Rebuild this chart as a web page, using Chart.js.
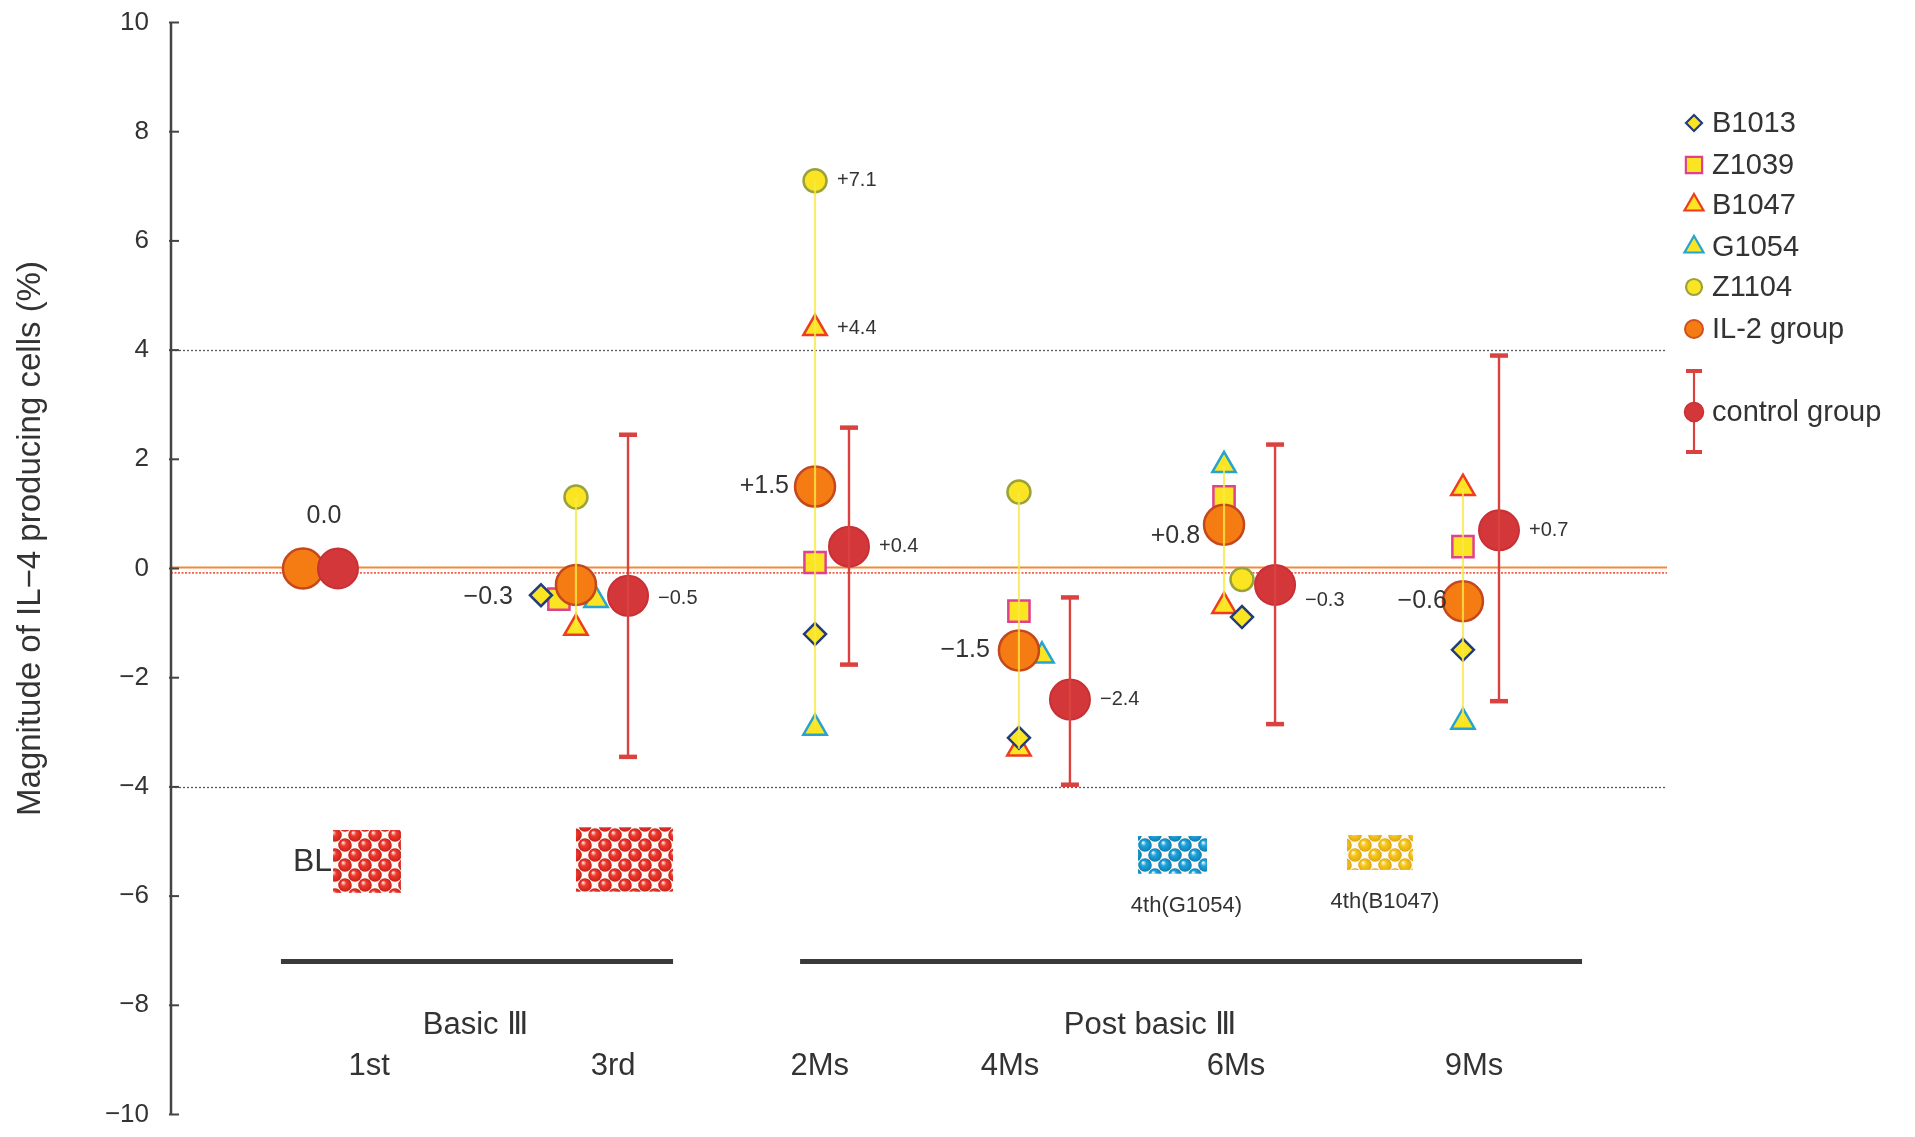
<!DOCTYPE html>
<html>
<head>
<meta charset="utf-8">
<script src="https://cdn.jsdelivr.net/npm/chart.js@4.4.1/dist/chart.umd.min.js"></script>
<style>
  html, body { margin: 0; padding: 0; background: #ffffff; }
  canvas { display: block; }
</style>
</head>
<body>
<canvas id="chart" width="1915" height="1137"></canvas>
<script>
// ---- data -------------------------------------------------------------
const timePoints = ['1st', '3rd', '2Ms', '4Ms', '6Ms', '9Ms'];
const phaseLabels = ['Basic Ⅲ', 'Post basic Ⅲ'];
const yTicks = [10, 8, 6, 4, 2, 0, -2, -4, -6, -8, -10];
const yTitle = 'Magnitude of IL−4 producing cells (%)';

// individual animals (change in % IL-4 producing cells)
const b1013 = [null, -0.49, -1.20, -3.10, -0.89, -1.49];
const z1039 = [null, -0.56, 0.11, -0.78, 1.31, 0.40];
const b1047 = [null, -1.09, 4.40, -3.30, -0.69, 1.47];
const g1054 = [null, -0.58, -2.92, -1.60, 1.89, -2.81];
const z1104 = [null, 1.31, 7.10, 1.40, -0.20, null];

// group means
const il2Mean = [0.0, -0.3, 1.5, -1.5, 0.8, -0.6];
const controlMean = [0.0, -0.5, 0.4, -2.4, -0.3, 0.7];
const controlHigh = [null, 2.45, 2.58, -0.53, 2.27, 3.90];
const controlLow = [null, -3.45, -1.76, -3.96, -2.85, -2.43];

// reference lines
const limitLines = [4, -4];
const zeroLines = [0.02, -0.08];

// treatment boxes
const boxLabels = ['BL', '', '4th(G1054)', '4th(B1047)'];

// ---- layout (x axis runs 0..100) ---------------------------------------
const il2X = [8.82, 27.07, 43.05, 56.68, 70.39, 86.36];
const controlX = [11.16, 30.55, 45.32, 60.09, 73.80, 88.77];
const tickX = [13.24, 29.55, 43.37, 56.08, 71.19, 87.10];
const phaseX = [20.35, 65.45];
const phaseBars = [[7.35, 33.56], [42.05, 94.32]];
const boxRects = [
  { x0: 10.83, x1: 15.37, y0: -4.79, y1: -5.94, color: 'red', ldx: 0 },
  { x0: 27.07, x1: 33.56, y0: -4.74, y1: -5.92, color: 'red', ldx: 0 },
  { x0: 64.64, x1: 69.25, y0: -4.90, y1: -5.59, color: 'blue', ldx: 14 },
  { x0: 78.61, x1: 83.02, y0: -4.88, y1: -5.52, color: 'yellow', ldx: 5 }
];
const xOffB1013 = [0, -2.34, 0, 0, 1.20, 0];
const xOffZ1039 = [0, -1.14, 0, 0, 0, 0];
const xOffB1047 = [0, 0, 0, 0, 0, 0];
const xOffG1054 = [0, 1.34, 0, 1.54, 0, 0];
const xOffZ1104 = [0, 0, 0, 0, 1.20, 0];

const FONT = '"Liberation Sans", Arial, sans-serif';
const TEXT = '#333333';
const YELLOW = '#fbe523';

const series = [
  { name: 'B1013', vals: b1013, off: xOffB1013, style: 'rectRot', r: 11, lr: 8, stroke: '#233c7c' },
  { name: 'Z1039', vals: z1039, off: xOffZ1039, style: 'rect', r: 15, lr: 11.5, stroke: '#e0418f' },
  { name: 'B1047', vals: b1047, off: xOffB1047, style: 'triangle', r: 13.5, lr: 11, stroke: '#ef3b1e' },
  { name: 'G1054', vals: g1054, off: xOffG1054, style: 'triangle', r: 13.5, lr: 11, stroke: '#27a3cf' },
  { name: 'Z1104', vals: z1104, off: xOffZ1104, style: 'circle', r: 11.5, lr: 8, stroke: '#9aa23c' }
];

function fmt(v) {
  if (v > 0) return '+' + v.toFixed(1);
  if (v < 0) return '−' + (-v).toFixed(1);
  return '0.0';
}

// ---- datasets ----------------------------------------------------------
const datasets = [];
series.forEach(s => {
  datasets.push({
    label: s.name,
    data: s.vals.map((v, i) => v === null ? null : { x: il2X[i] + s.off[i], y: v }).filter(p => p),
    pointStyle: s.style,
    pointRadius: s.r,
    backgroundColor: YELLOW,
    borderColor: s.stroke,
    borderWidth: 2.5,
    order: 40
  });
});

datasets.push({
  label: 'IL-2 group',
  data: il2Mean.map((v, i) => ({ x: il2X[i], y: v })),
  pointStyle: 'circle',
  pointRadius: 20,
  backgroundColor: '#f57c12',
  borderColor: '#c4471d',
  borderWidth: 2.5,
  order: 30
});

// spread of the individual animals at each time point
const spread = [];
timePoints.forEach((t, i) => {
  const vals = series.filter(s => s.off[i] === 0).map(s => s.vals[i]).filter(v => v !== null);
  if (vals.length > 1) {
    spread.push({ x: il2X[i], y: Math.max(...vals) });
    spread.push({ x: il2X[i], y: Math.min(...vals) });
    spread.push({ x: il2X[i], y: null });
  }
});
datasets.push({
  type: 'line',
  label: 'range',
  data: spread,
  borderColor: 'rgba(247, 232, 70, 0.8)',
  borderWidth: 2.2,
  pointRadius: 0,
  spanGaps: false,
  fill: false,
  order: 20
});

datasets.push({
  label: 'control group',
  data: controlMean.map((v, i) => ({ x: controlX[i], y: v })),
  pointStyle: 'circle',
  pointRadius: 20,
  backgroundColor: '#d3373a',
  borderColor: '#c83035',
  borderWidth: 2,
  order: 10
});

// ---- drawing helpers ---------------------------------------------------
function drawMarker(ctx, style, x, y, r, fill, stroke, lw) {
  ctx.save();
  ctx.beginPath();
  if (style === 'circle') {
    ctx.arc(x, y, r, 0, Math.PI * 2);
  } else if (style === 'rect') {
    const s = Math.SQRT1_2 * r;
    ctx.rect(x - s, y - s, 2 * s, 2 * s);
  } else if (style === 'rectRot') {
    ctx.moveTo(x - r, y); ctx.lineTo(x, y - r); ctx.lineTo(x + r, y); ctx.lineTo(x, y + r);
    ctx.closePath();
  } else if (style === 'triangle') {
    let a = 0;
    for (let k = 0; k < 3; k++) {
      const px = x + Math.sin(a) * r, py = y - Math.cos(a) * r;
      if (k === 0) ctx.moveTo(px, py); else ctx.lineTo(px, py);
      a += Math.PI * 2 / 3;
    }
    ctx.closePath();
  }
  ctx.fillStyle = fill; ctx.fill();
  ctx.lineWidth = lw; ctx.strokeStyle = stroke; ctx.stroke();
  ctx.restore();
}

const ballColors = {
  red: ['#ffd6cf', '#ee3a2e', '#c8201a'],
  blue: ['#d6f2ff', '#1ea3dc', '#0f7fb4'],
  yellow: ['#fff6c8', '#f7c81c', '#e0a810']
};
function ballPattern(ctx, key) {
  const c = document.createElement('canvas');
  c.width = 20; c.height = 20;
  const g = c.getContext('2d');
  g.fillStyle = '#fffaf6';
  g.fillRect(0, 0, 20, 20);
  const [hi, mid, lo] = ballColors[key];
  [[5, 5], [15, 15], [15, -5], [-5, 15], [25, 5], [5, 25], [-5, -5], [25, 25]].forEach(([cx, cy]) => {
    const grd = g.createRadialGradient(cx - 2, cy - 2.5, 0.5, cx, cy, 6.8);
    grd.addColorStop(0, hi);
    grd.addColorStop(0.35, mid);
    grd.addColorStop(1, lo);
    g.fillStyle = grd;
    g.beginPath(); g.arc(cx, cy, 6.8, 0, Math.PI * 2); g.fill();
  });
  return ctx.createPattern(c, 'repeat');
}

function hline(ctx, x0, x1, y) {
  ctx.beginPath(); ctx.moveTo(x0, y); ctx.lineTo(x1, y); ctx.stroke();
}

const decor = {
  id: 'decor',
  beforeDatasetsDraw(chart) {
    const { ctx, chartArea: a, scales: { y } } = chart;
    ctx.save();
    ctx.strokeStyle = '#5a5a5a';
    ctx.lineWidth = 1.3;
    ctx.setLineDash([2, 2]);
    limitLines.forEach(v => hline(ctx, a.left, a.right, Math.round(y.getPixelForValue(v)) + 0.5));
    ctx.setLineDash([]);
    ctx.strokeStyle = '#f28a3a';
    ctx.lineWidth = 2;
    hline(ctx, a.left, a.right, y.getPixelForValue(zeroLines[0]));
    ctx.setLineDash([2, 1.5]);
    ctx.strokeStyle = '#f0604c';
    ctx.lineWidth = 1.8;
    hline(ctx, a.left, a.right, y.getPixelForValue(zeroLines[1]));
    ctx.restore();
  },
  afterDatasetsDraw(chart) {
    const { ctx, scales: { x, y } } = chart;
    ctx.save();
    // control group error bars
    ctx.strokeStyle = '#d9423f';
    controlMean.forEach((v, i) => {
      if (controlHigh[i] === null) return;
      const px = x.getPixelForValue(controlX[i]);
      const top = y.getPixelForValue(controlHigh[i]);
      const bot = y.getPixelForValue(controlLow[i]);
      ctx.lineWidth = 2.4;
      ctx.beginPath(); ctx.moveTo(px, top); ctx.lineTo(px, bot); ctx.stroke();
      ctx.lineWidth = 4.5;
      hline(ctx, px - 9, px + 9, top);
      hline(ctx, px - 9, px + 9, bot);
    });

    ctx.fillStyle = TEXT;
    ctx.textBaseline = 'middle';
    // IL-2 group mean labels
    const il2Anchor = [
      { dx: 21, dy: -52, align: 'center' },
      { dx: -63, dy: 12, align: 'right' },
      { dx: -26, dy: 0, align: 'right' },
      { dx: -29, dy: 0, align: 'right' },
      { dx: -24, dy: 11, align: 'right' },
      { dx: -16, dy: 0, align: 'right' }
    ];
    ctx.font = '25px ' + FONT;
    il2Mean.forEach((v, i) => {
      const an = il2Anchor[i];
      ctx.textAlign = an.align;
      ctx.fillText(fmt(v), x.getPixelForValue(il2X[i]) + an.dx, y.getPixelForValue(v) + an.dy);
    });
    // control group mean labels
    const ctrlDy = [0, 3, 0, 0, 16, 0];
    ctx.font = '20px ' + FONT;
    ctx.textAlign = 'left';
    controlMean.forEach((v, i) => {
      if (i === 0) return;
      ctx.fillText(fmt(v), x.getPixelForValue(controlX[i]) + 30, y.getPixelForValue(v) + ctrlDy[i]);
    });
    // labels on the two highest individual values
    ctx.font = '20px ' + FONT;
    [[4, 2], [2, 2]].forEach(([s, i]) => {
      const v = series[s].vals[i];
      ctx.fillText(fmt(v), x.getPixelForValue(il2X[i]) + 22, y.getPixelForValue(v));
    });
    ctx.restore();
  },
  afterDraw(chart) {
    const { ctx, chartArea: a, scales: { x, y } } = chart;
    ctx.save();
    // y axis
    const ax = a.left;
    ctx.strokeStyle = '#444';
    ctx.lineWidth = 2.5;
    ctx.beginPath();
    ctx.moveTo(ax, y.getPixelForValue(10)); ctx.lineTo(ax, y.getPixelForValue(-10)); ctx.stroke();
    ctx.lineWidth = 2;
    ctx.fillStyle = TEXT;
    ctx.font = '26px ' + FONT;
    ctx.textAlign = 'right';
    ctx.textBaseline = 'middle';
    yTicks.forEach(t => {
      const py = y.getPixelForValue(t);
      hline(ctx, ax - 2, ax + 8, py);
      ctx.fillText(t < 0 ? '−' + (-t) : String(t), ax - 22, py);
    });
    // y title
    ctx.save();
    ctx.translate(31, (y.getPixelForValue(10) + y.getPixelForValue(-10)) / 2 - 30);
    ctx.rotate(-Math.PI / 2);
    ctx.textAlign = 'center';
    ctx.font = '33px ' + FONT;
    ctx.fillText(yTitle, 0, 0);
    ctx.restore();

    // treatment boxes
    boxRects.forEach((b, k) => {
      const x0 = x.getPixelForValue(b.x0), x1 = x.getPixelForValue(b.x1);
      const y0 = y.getPixelForValue(b.y0), y1 = y.getPixelForValue(b.y1);
      ctx.fillStyle = ballPattern(ctx, b.color);
      ctx.fillRect(x0, y0, x1 - x0, y1 - y0);
      ctx.fillStyle = TEXT;
      if (k === 0) {
        ctx.font = '32px ' + FONT;
        ctx.textAlign = 'right';
        ctx.textBaseline = 'middle';
        ctx.fillText(boxLabels[k], x0 - 1, (y0 + y1) / 2 + 1);
      } else if (boxLabels[k]) {
        ctx.font = '22px ' + FONT;
        ctx.textAlign = 'center';
        ctx.textBaseline = 'middle';
        ctx.fillText(boxLabels[k], (x0 + x1) / 2 + b.ldx, y1 + 32);
      }
    });

    // phase bars
    ctx.strokeStyle = '#3a3a3a';
    ctx.lineWidth = 5;
    phaseBars.forEach(([p0, p1]) => hline(ctx, x.getPixelForValue(p0), x.getPixelForValue(p1), y.getPixelForValue(-7.2)));

    // phase and time point labels
    ctx.fillStyle = TEXT;
    ctx.textAlign = 'center';
    ctx.textBaseline = 'middle';
    ctx.font = '31px ' + FONT;
    phaseLabels.forEach((t, k) => ctx.fillText(t, x.getPixelForValue(phaseX[k]), y.getPixelForValue(-8.37)));
    timePoints.forEach((t, i) => ctx.fillText(t, x.getPixelForValue(tickX[i]), y.getPixelForValue(-9.12)));

    // legend
    const lx = 1694, tx = 1712;
    const rows = [123, 165, 205, 247, 287, 329];
    ctx.font = '29px ' + FONT;
    ctx.textAlign = 'left';
    series.forEach((s, k) => {
      drawMarker(ctx, s.style, lx, rows[k], s.lr, YELLOW, s.stroke, 2.2);
      ctx.fillStyle = TEXT;
      ctx.fillText(s.name, tx, rows[k] + 1);
    });
    drawMarker(ctx, 'circle', lx, rows[5], 9, '#f57c12', '#d0501e', 2);
    ctx.fillStyle = TEXT;
    ctx.fillText('IL-2 group', tx, rows[5] + 1);
    // control legend with error bar
    ctx.strokeStyle = '#d9423f';
    ctx.lineWidth = 2.2;
    ctx.beginPath(); ctx.moveTo(lx, 371); ctx.lineTo(lx, 452); ctx.stroke();
    ctx.lineWidth = 4;
    hline(ctx, lx - 8, lx + 8, 371);
    hline(ctx, lx - 8, lx + 8, 452);
    drawMarker(ctx, 'circle', lx, 412, 9.5, '#d3373a', '#c83035', 1.5);
    ctx.fillStyle = TEXT;
    ctx.fillText('control group', tx, 413);
    ctx.restore();
  }
};

new Chart(document.getElementById('chart'), {
  type: 'scatter',
  data: { datasets },
  options: {
    responsive: false,
    animation: false,
    devicePixelRatio: 1,
    events: [],
    layout: { padding: { left: 171, right: 248, top: 22, bottom: 20 } },
    scales: {
      x: { type: 'linear', min: 0, max: 100, display: false },
      y: { type: 'linear', min: -10, max: 10, display: false }
    },
    plugins: {
      legend: { display: false },
      tooltip: { enabled: false }
    }
  },
  plugins: [decor]
});
</script>
</body>
</html>
